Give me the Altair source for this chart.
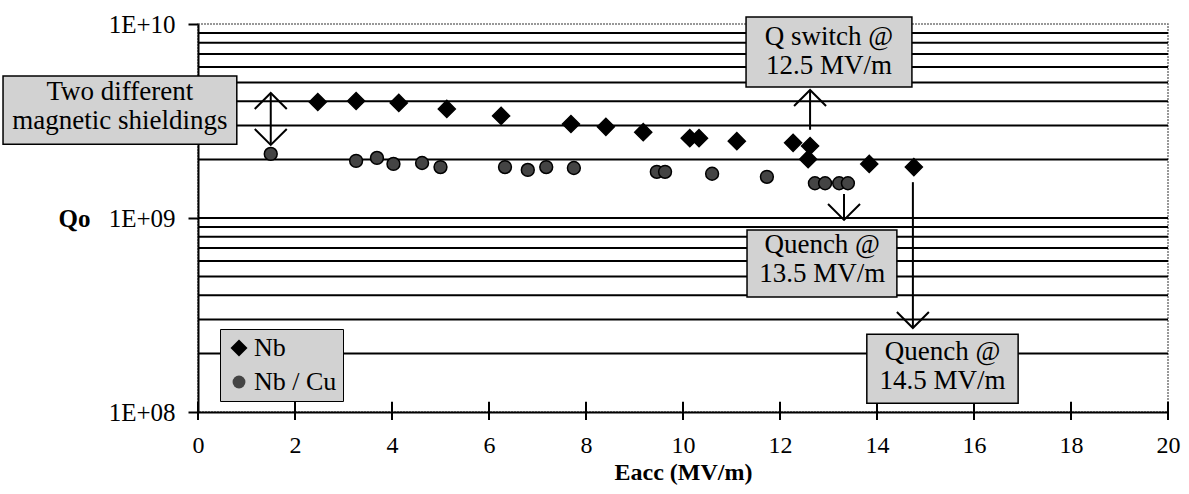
import altair as alt
import pandas as pd

# ---- data ----
series = ["Nb", "Nb / Cu"]

nb_eacc = [2.47, 3.26, 4.14, 5.13, 6.25, 7.69, 8.41, 9.18, 10.14, 10.33, 11.11, 12.27, 12.62, 12.58, 13.84, 14.76]
nb_q0 = [3.96e9, 4.01e9, 3.92e9, 3.65e9, 3.36e9, 3.05e9, 2.95e9, 2.77e9, 2.58e9, 2.58e9, 2.49e9, 2.44e9, 2.35e9, 2.01e9, 1.90e9, 1.83e9]

cu_eacc = [1.50, 3.26, 3.69, 4.03, 4.62, 5.00, 6.33, 6.80, 7.18, 7.75, 9.46, 9.63, 10.60, 11.73, 12.72, 12.93, 13.22, 13.40]
cu_q0 = [2.14e9, 1.97e9, 2.04e9, 1.90e9, 1.92e9, 1.83e9, 1.83e9, 1.77e9, 1.83e9, 1.81e9, 1.73e9, 1.73e9, 1.69e9, 1.63e9, 1.51e9, 1.51e9, 1.51e9, 1.51e9]

x_ticks = [0, 2, 4, 6, 8, 10, 12, 14, 16, 18, 20]
y_ticks = [1e8, 1e9, 1e10]
grid_q = [2e8, 3e8, 4e8, 5e8, 6e8, 7e8, 8e8, 9e8,
          1e9, 2e9, 3e9, 4e9, 5e9, 6e9, 7e9, 8e9, 9e9]

# annotation boxes (data units)
box_x1 = [-4.02, 11.30, 11.32, 13.79]
box_x2 = [0.80, 14.72, 14.41, 16.91]
box_y1 = [5.40e9, 1.087e10, 8.67e8, 2.52e8]
box_y2 = [2.40e9, 4.73e9, 3.92e8, 1.11e8]
box_tx = [-1.61, 13.01, 12.87, 15.35]
box_ty = [4.06e9, 7.80e9, 6.61e8, 1.85e8]   # baseline of first line
box_text = ["Two different\nmagnetic shieldings", "Q switch @\n12.5 MV/m",
            "Quench @\n13.5 MV/m", "Quench @\n14.5 MV/m"]

# arrows (data units)
arrow_x = [1.5, 12.62, 13.32, 14.74]
arrow_y1 = [4.41e9, 2.85e9, 1.33e9, 1.53e9]
arrow_y2 = [2.38e9, 4.57e9, 9.77e8, 2.71e8]
head_up_x = [1.5, 12.62]
head_up_y = [4.41e9, 4.57e9]
head_dn_x = [1.5, 13.32, 14.74]
head_dn_y = [2.38e9, 9.77e8, 2.71e8]

FONT = "Liberation Serif, Times New Roman, serif"

# ---- tables ----
df_pts = pd.DataFrame({
    "E": nb_eacc + cu_eacc,
    "Q": nb_q0 + cu_q0,
    "series": [series[0]] * len(nb_eacc) + [series[1]] * len(cu_eacc),
})
df_grid = pd.DataFrame({"Q": grid_q})
df_xt = pd.DataFrame({"E": x_ticks, "lo": [9.1e7] * len(x_ticks), "hi": [1.128e8] * len(x_ticks)})
df_box = pd.DataFrame({"x1": box_x1, "x2": box_x2, "y1": box_y1, "y2": box_y2,
                       "tx": box_tx, "ty": box_ty, "label": box_text})
df_arrow = pd.DataFrame({"x": arrow_x, "y1": arrow_y1, "y2": arrow_y2})
df_up = pd.DataFrame({"x": head_up_x, "y": head_up_y})
df_dn = pd.DataFrame({"x": head_dn_x, "y": head_dn_y})

xs = alt.Scale(domain=[0, 20], nice=False, zero=False)
ys = alt.Scale(type="log", domain=[1e8, 1e10], nice=False)

x_axis = alt.Axis(values=x_ticks, grid=False, ticks=False, tickSize=0,
                  domainColor="black", domainWidth=2, labelFlush=False,
                  labelFont=FONT, labelFontSize=24, labelColor="black", labelPadding=21,
                  title="Eacc (MV/m)", titleFont=FONT, titleFontSize=24, titleFontWeight="bold",
                  titleColor="black", titleY=67, titleBaseline="alphabetic")
y_axis = alt.Axis(values=y_ticks, grid=False, tickSize=10, tickColor="black", tickWidth=2,
                  domainColor="black", domainWidth=2, labelFlush=False,
                  labelExpr="'1E+' + (round(log(datum.value)/LN10) < 10 ? '0' : '') + round(log(datum.value)/LN10)",
                  labelFont=FONT, labelFontSize=25, labelColor="black", labelPadding=13,
                  title="Qo", titleFont=FONT, titleFontSize=25, titleFontWeight="bold",
                  titleColor="black", titleAngle=0, titleAlign="center", titleBaseline="middle",
                  titleX=-124, titleY=194)


def X(f):
    return alt.X(f, scale=xs, axis=x_axis)


def Y(f):
    return alt.Y(f, scale=ys, axis=y_axis)


grid = alt.Chart(df_grid).mark_rule(color="black", strokeWidth=2).encode(
    y=Y("Q:Q"),
)

xticks = alt.Chart(df_xt).mark_rule(color="black", strokeWidth=2).encode(
    x=X("E:Q"), y=Y("lo:Q"), y2="hi:Q",
)

boxes = alt.Chart(df_box).mark_rect(fill="#d2d2d2", stroke="black", strokeWidth=1.5).encode(
    x=X("x1:Q"), x2="x2:Q", y=Y("y1:Q"), y2="y2:Q",
)
texts = alt.Chart(df_box).mark_text(font=FONT, fontSize=27, lineHeight=29, color="black",
                                    align="center", baseline="alphabetic", lineBreak="\n").encode(
    x=X("tx:Q"), y=Y("ty:Q"), text="label:N",
)

arrows = alt.Chart(df_arrow).mark_rule(color="black", strokeWidth=2).encode(
    x=X("x:Q"), y=Y("y1:Q"), y2="y2:Q",
)
heads_up = alt.Chart(df_up).mark_point(shape="M-1,1L0,0L1,1", filled=False, size=1024,
                                       color="black", strokeWidth=2, opacity=1).encode(
    x=X("x:Q"), y=Y("y:Q"))
heads_dn = alt.Chart(df_dn).mark_point(shape="M-1,-1L0,0L1,-1", filled=False, size=1024,
                                       color="black", strokeWidth=2, opacity=1).encode(
    x=X("x:Q"), y=Y("y:Q"))

leg = alt.Legend(title=None, orient="none", legendX=22, legendY=305, fillColor="#d2d2d2",
                 strokeColor="black", padding=6, labelFont=FONT, labelFontSize=26,
                 labelColor="black", symbolSize=260, symbolStrokeColor="black",
                 symbolStrokeWidth=1.5, rowPadding=8, labelOffset=2, symbolOpacity=1)

points = alt.Chart(df_pts).mark_point(filled=True, stroke="black", strokeWidth=1.5, opacity=1).encode(
    x=X("E:Q"), y=Y("Q:Q"),
    color=alt.Color("series:N", scale=alt.Scale(domain=series, range=["black", "#444444"]), legend=leg),
    shape=alt.Shape("series:N", scale=alt.Scale(domain=series, range=["diamond", "circle"]), legend=leg),
    size=alt.Size("series:N", scale=alt.Scale(domain=series, range=[290, 165]), legend=None),
)

chart = alt.layer(grid, xticks, boxes, texts, arrows, heads_up, heads_dn, points).properties(
    width=970, height=388,
    autosize=alt.AutoSizeParams(type="none"),
    padding={"left": 198, "top": 24, "right": 21, "bottom": 82},
    background="white",
).configure_view(stroke="#777777", strokeDash=[2, 1], strokeWidth=1.5)

chart.save("out.html", embed_options={"renderer": "svg", "actions": False})
